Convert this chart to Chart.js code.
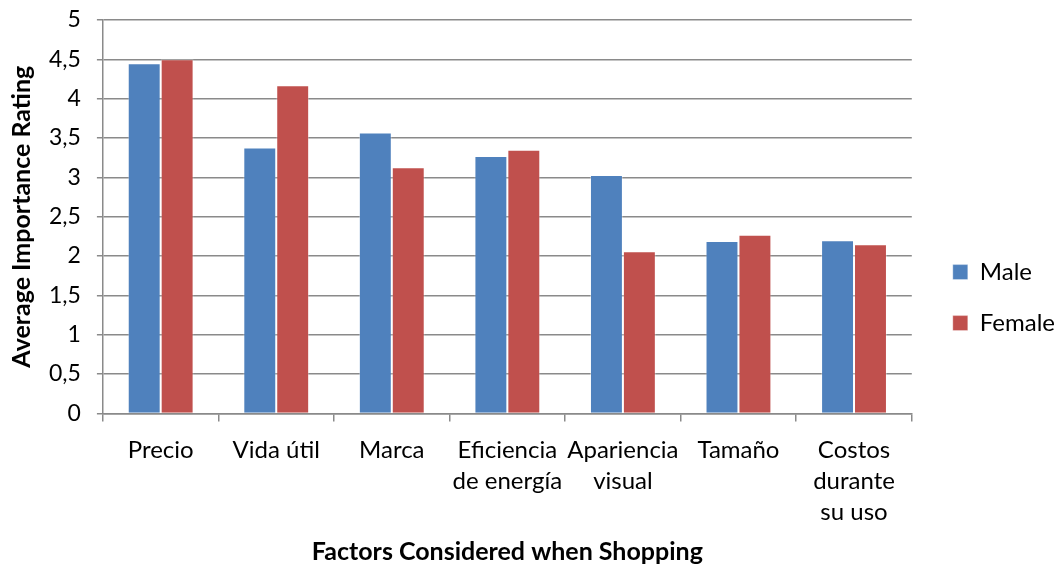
<!DOCTYPE html>
<html>
<head>
<meta charset="utf-8">
<script src="https://cdn.jsdelivr.net/npm/chart.js@4.4.1/dist/chart.umd.min.js"></script>
<style>
  html, body { margin: 0; padding: 0; background: #fff; overflow: hidden; }
  #wrap { width: 1060px; height: 569px; position: relative; }
</style>
</head>
<body>
<div id="wrap"><canvas id="c"></canvas></div>
<script>
// ─── Data ────────────────────────────────────────────────────────────────────
var categories = [
  'Precio',
  'Vida útil',
  'Marca',
  ['Eficiencia', 'de energía'],
  ['Apariencia', 'visual'],
  'Tamaño',
  ['Costos', 'durante', 'su uso']
];
var maleValues   = [4.45, 3.38, 3.57, 3.27, 3.03, 2.19, 2.20];
var femaleValues = [4.50, 4.17, 3.13, 3.35, 2.06, 2.27, 2.15];
var seriesNames  = ['Male', 'Female'];
var yTicks       = [0, 0.5, 1, 1.5, 2, 2.5, 3, 3.5, 4, 4.5, 5];

var FONT = 'Lato, "Open Sans", sans-serif';
var GRID = '#8a8a8a';

// legend sits a bit further from the plot than Chart.js puts it
var legendNudge = {
  id: 'legendNudge',
  afterLayout: function(chart) {
    if (!chart.legend) return;
    chart.legend.left += 14;
    chart.legend.right += 14;
  }
};

new Chart(document.getElementById('c').getContext('2d'), {
  type: 'bar',
  plugins: [legendNudge],
  data: {
    labels: categories,
    datasets: [
      {
        label: seriesNames[0],
        data: maleValues,
        backgroundColor: '#4F81BD',
        borderColor: 'rgba(255,255,255,0.35)',
        borderWidth: 1,
        categoryPercentage: 0.57,
        barPercentage: 1.0
      },
      {
        label: seriesNames[1],
        data: femaleValues,
        backgroundColor: '#C0504D',
        borderColor: 'rgba(255,255,255,0.35)',
        borderWidth: 1,
        categoryPercentage: 0.57,
        barPercentage: 1.0
      }
    ]
  },
  options: {
    responsive: true,
    maintainAspectRatio: false,
    animation: false,
    layout: { padding: { top: 0, right: 9, bottom: 2, left: 7 } },
    plugins: {
      legend: {
        position: 'right',
        // empty title only nudges the two entries down a little
        title: { display: true, text: ' ', font: { size: 1 }, padding: { top: 0, bottom: 27 } },
        labels: {
          boxWidth: 15,
          boxHeight: 15,
          padding: 27,
          color: '#000',
          font: { size: 24, family: FONT }
        }
      },
      tooltip: { enabled: false }
    },
    scales: {
      x: {
        grid: {
          offset: true,
          drawOnChartArea: false,
          drawTicks: true,
          tickLength: 8,
          color: GRID,
          lineWidth: 1.5
        },
        border: { color: GRID, width: 1.5 },
        ticks: {
          color: '#000',
          font: { size: 24, family: FONT, lineHeight: 1.3 },
          maxRotation: 0,
          autoSkip: false,
          padding: 13
        },
        title: {
          display: true,
          text: 'Factors Considered when Shopping',
          color: '#000',
          font: { size: 25, weight: 'bold', family: FONT },
          padding: { top: -4, bottom: 0 }
        }
      },
      y: {
        min: 0,
        max: 5,
        afterBuildTicks: function(scale) {
          scale.ticks = yTicks.map(function(v) { return { value: v }; });
        },
        // top tick label must not push the plot down (tick padding is added there)
        afterFit: function(scale) {
          scale.paddingTop = 20;
        },
        grid: {
          color: GRID,
          lineWidth: 1.5,
          tickLength: 6
        },
        border: { color: GRID, width: 1.5 },
        ticks: {
          color: '#000',
          font: { size: 23, family: FONT },
          padding: 16,
          callback: function(v) { return String(v).replace('.', ','); }
        },
        title: {
          display: true,
          text: 'Average Importance Rating',
          color: '#000',
          font: { size: 25, weight: 'bold', family: FONT },
          padding: { top: 0, bottom: -4 }
        }
      }
    }
  }
});
</script>
</body>
</html>
